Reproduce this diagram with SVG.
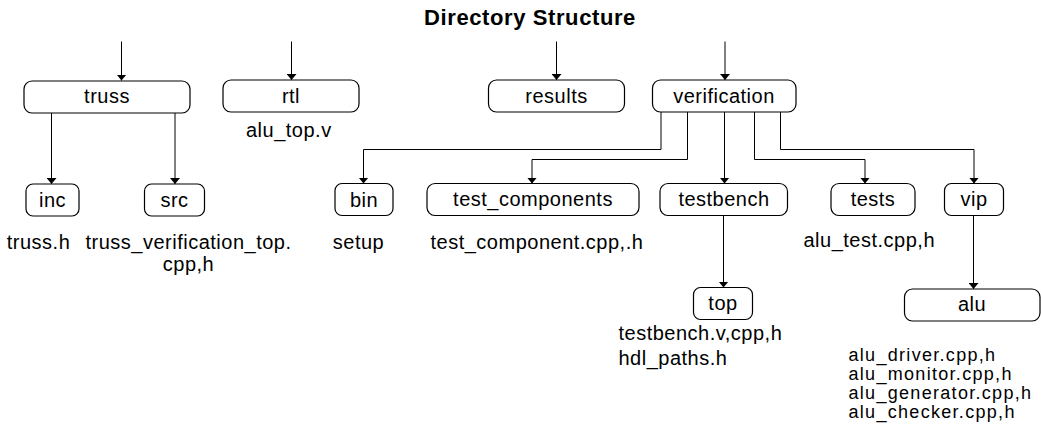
<svg xmlns="http://www.w3.org/2000/svg" width="1041" height="439" viewBox="0 0 1041 439">
<style>
.box{fill:#fff;stroke:#000;stroke-width:1.2}
.lbl{font-family:"Liberation Sans",Arial,sans-serif;font-size:20px;letter-spacing:0.5px;fill:#000;text-anchor:middle}
.cap{font-family:"Liberation Sans",Arial,sans-serif;font-size:20px;letter-spacing:0.5px;fill:#000}
.lst{font-family:"Liberation Sans",Arial,sans-serif;font-size:18px;letter-spacing:1.3px;fill:#000}
.mid{text-anchor:middle}
.title{font-family:"Liberation Sans",Arial,sans-serif;font-size:22px;font-weight:bold;letter-spacing:0.6px;fill:#000;text-anchor:middle}
.con{fill:none;stroke:#000;stroke-width:1;marker-end:url(#arr)}
</style>
<defs>
<marker id="arr" viewBox="0 0 6 10" refX="6" refY="5" markerWidth="6" markerHeight="10" markerUnits="userSpaceOnUse" orient="auto">
<path d="M0,0 L6,5 L0,10 z" fill="#000"/>
</marker>
</defs>
<rect width="1041" height="439" fill="#fff"/>
<text class="title" x="530" y="25">Directory Structure</text>
<g id="connectors">
<path class="con" d="M121.5 41.5 V80.5"/>
<path class="con" d="M291.5 41.5 V80"/>
<path class="con" d="M556.5 41.5 V80"/>
<path class="con" d="M725 41.5 V80"/>
<path class="con" d="M51.5 113 V184"/>
<path class="con" d="M175 113 V184"/>
<path class="con" d="M661 112 V149.5 H363.5 V183.5"/>
<path class="con" d="M687.5 112 V159.5 H532 V183.5"/>
<path class="con" d="M724.5 112 V183.5"/>
<path class="con" d="M754.5 112 V159.5 H865 V183.5"/>
<path class="con" d="M780.5 112 V149.5 H974 V183.5"/>
<path class="con" d="M723.5 216 V287.5"/>
<path class="con" d="M973.5 216 V289"/>
</g>
<g id="truss"><rect class="box" x="24" y="81" width="166" height="32" rx="8"/><text class="lbl" x="107" y="103">truss</text></g>
<g id="rtl"><rect class="box" x="223" y="80" width="136" height="32" rx="8"/><text class="lbl" x="291" y="102.5">rtl</text><text class="cap" x="246" y="137">alu_top.v</text></g>
<g id="results"><rect class="box" x="488.5" y="80" width="136" height="32" rx="8"/><text class="lbl" x="556.5" y="102.5">results</text></g>
<g id="verification"><rect class="box" x="652.5" y="80" width="143.5" height="32" rx="8"/><text class="lbl" x="724" y="102.5">verification</text></g>
<g id="inc"><rect class="box" x="26" y="184" width="53" height="32" rx="7"/><text class="lbl" x="52.5" y="206.5">inc</text><text class="cap mid" x="38.5" y="248.5">truss.h</text></g>
<g id="src"><rect class="box" x="144.5" y="184" width="60" height="32" rx="7"/><text class="lbl" x="174.5" y="206.5">src</text><text class="cap mid" x="188.5" y="248.5">truss_verification_top.</text><text class="cap mid" x="188.5" y="270.5">cpp,h</text></g>
<g id="bin"><rect class="box" x="335" y="183.5" width="58" height="32" rx="7"/><text class="lbl" x="364" y="206.5">bin</text><text class="cap mid" x="358.5" y="249">setup</text></g>
<g id="test_components"><rect class="box" x="427" y="183.5" width="212" height="32" rx="8"/><text class="lbl" x="533" y="206">test_components</text><text class="cap" x="430.5" y="248.5">test_component.cpp,.h</text></g>
<g id="testbench"><rect class="box" x="660" y="183.5" width="127.5" height="32" rx="8"/><text class="lbl" x="724" y="206">testbench</text></g>
<g id="tests"><rect class="box" x="831" y="183.5" width="84" height="32" rx="8"/><text class="lbl" x="873" y="206">tests</text><text class="cap" x="803.5" y="247">alu_test.cpp,h</text></g>
<g id="vip"><rect class="box" x="944.5" y="183.5" width="59" height="32" rx="7"/><text class="lbl" x="974" y="206">vip</text></g>
<g id="top"><rect class="box" x="693.5" y="287.5" width="59" height="32" rx="7"/><text class="lbl" x="723" y="309.5">top</text><text class="cap" x="618.5" y="340">testbench.v,cpp,h</text><text class="cap" x="618.5" y="365">hdl_paths.h</text></g>
<g id="alu"><rect class="box" x="904.5" y="289" width="135.5" height="32" rx="8"/><text class="lbl" x="972" y="311">alu</text><text class="lst" x="848.5" y="361">alu_driver.cpp,h</text><text class="lst" x="848.5" y="380">alu_monitor.cpp,h</text><text class="lst" x="848.5" y="399">alu_generator.cpp,h</text><text class="lst" x="848.5" y="418">alu_checker.cpp,h</text></g>
</svg>
